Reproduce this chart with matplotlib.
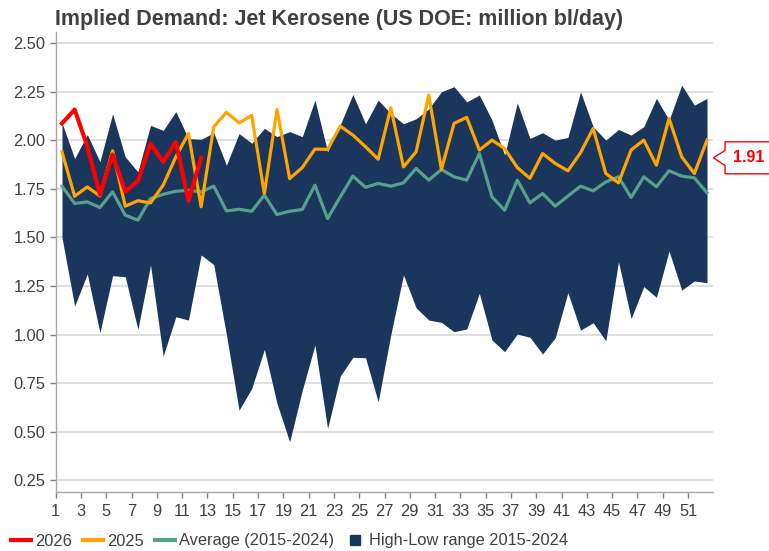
import numpy as np
import matplotlib
matplotlib.use("Agg")
import matplotlib.pyplot as plt
from matplotlib.lines import Line2D
from matplotlib.patches import Polygon
from matplotlib.transforms import IdentityTransform

plt.rcParams['font.family'] = ['Liberation Sans', 'DejaVu Sans']

# weekly data, weeks 1..52
weeks = np.arange(1, 53)
high = [2.09, 1.906, 2.03, 1.89, 2.136, 1.915, 1.838, 2.077, 2.051, 2.148,
        2.009, 2.005, 2.039, 1.872, 2.035, 1.985, 2.062, 2.019, 2.045, 2.019,
        2.207, 1.941, 2.08, 2.236, 2.085, 2.207, 2.138, 2.085, 2.111, 2.162,
        2.25, 2.276, 2.198, 2.233, 2.104, 1.924, 2.193, 2.01, 2.039, 2.001,
        2.015, 2.25, 2.07, 2.001, 2.056, 2.027, 2.07, 2.216, 2.104, 2.284,
        2.181, 2.216]
low = [1.50, 1.147, 1.312, 1.01, 1.303, 1.298, 1.027, 1.358, 0.889, 1.092,
       1.075, 1.41, 1.36, 1.0, 0.611, 0.723, 0.924, 0.646, 0.448, 0.714,
       0.946, 0.517, 0.786, 0.883, 0.881, 0.654, 1.0, 1.307, 1.138, 1.075,
       1.063, 1.015, 1.029, 1.212, 0.972, 0.912, 1.003, 0.986, 0.9, 0.984,
       1.216, 1.023, 1.061, 0.968, 1.375, 1.083, 1.247, 1.192, 1.43, 1.229,
       1.276, 1.267]
avg = [1.764, 1.675, 1.683, 1.654, 1.735, 1.615, 1.589, 1.70, 1.722, 1.738,
       1.743, 1.735, 1.764, 1.637, 1.645, 1.635, 1.718, 1.618, 1.635, 1.644,
       1.769, 1.597, 1.709, 1.816, 1.758, 1.778, 1.764, 1.781, 1.855, 1.795,
       1.85, 1.812, 1.795, 1.932, 1.709, 1.64, 1.795, 1.678, 1.726, 1.661,
       1.713, 1.764, 1.74, 1.786, 1.812, 1.706, 1.812, 1.761, 1.843, 1.816,
       1.807, 1.73]
y2025 = [1.941, 1.712, 1.76, 1.714, 1.946, 1.661, 1.689, 1.678, 1.769, 1.915,
         2.035, 1.658, 2.07, 2.144, 2.09, 2.128, 1.726, 2.159, 1.803, 1.86,
         1.955, 1.953, 2.073, 2.027, 1.967, 1.903, 2.168, 1.863, 1.941, 2.233,
         1.85, 2.087, 2.118, 1.95, 2.001, 1.958, 1.86, 1.804, 1.932, 1.881,
         1.843, 1.936, 2.061, 1.829, 1.781, 1.95, 2.001, 1.872, 2.113, 1.915,
         1.829, 2.001]
y2026 = [2.087, 2.158, 1.97, 1.72, 1.927, 1.736, 1.791, 1.983, 1.889, 1.991,
         1.689, 1.91]

xtick_labels = [str(i) for i in range(1, 52, 2)]
ytick_vals = np.arange(0.25, 2.51, 0.25)

navy = '#1b365d'
teal = '#56a08c'
orange = '#ffa500'
red = '#ff0000'
txt = '#404040'

fig = plt.figure(figsize=(7.69, 5.51), dpi=100)
ax = fig.add_axes([0.0724, 0.1071, 0.8552, 0.8357])

ax.fill_between(weeks, low, high, color=navy, lw=0, zorder=2)
ax.plot(weeks, avg, color=teal, lw=2.3, zorder=3)
ax.plot(weeks, y2025, color=orange, lw=2.3, zorder=4)
ax.plot(weeks[:len(y2026)], y2026, color=red, lw=3.0, zorder=5)

ax.set_xlim(0.5, 52.5)
ax.set_ylim(0.19, 2.56)
ax.set_xticks(np.arange(len(xtick_labels)) * 2 + 0.5)
ax.set_xticklabels(xtick_labels)
ax.set_yticks(ytick_vals)
ax.set_yticklabels([f"{v:.2f}" for v in ytick_vals])

ax.set_axisbelow(True)
ax.yaxis.grid(True, color='#d9d9d9', lw=1.2)
for s in ['top', 'right']:
    ax.spines[s].set_visible(False)
for s in ['left', 'bottom']:
    ax.spines[s].set_color('#a6a6a6')
    ax.spines[s].set_linewidth(1)
ax.tick_params(axis='both', colors='#808080', labelcolor=txt, labelsize=11.8, length=4.5, width=1)
ax.tick_params(axis='y', pad=3)
ax.tick_params(axis='x', pad=4)

fig.text(55 / 769, 1 - 25 / 551, 'Implied Demand: Jet Kerosene (US DOE: million bl/day)',
         fontsize=15.5, fontweight='bold', color=txt, va='baseline', ha='left')

# callout with last 2026 value
last = y2026[-1]
tx, ty = ax.transData.transform((52.5, last))
offs = [(0, 0), (11.7, 7.3), (11.7, 16), (70, 16), (70, -16), (11.7, -16), (11.7, -7.7)]
poly = Polygon([(tx + dx, ty + dy) for dx, dy in offs], closed=True, facecolor='white',
               edgecolor=red, lw=1, transform=IdentityTransform(), clip_on=False, zorder=10)
fig.patches.append(poly)
fig.text((tx + 35) / 769, ty / 551, f"{last:.2f}", color=red, fontsize=11.5, fontweight='bold',
         ha='center', va='center', zorder=11)

handles = [Line2D([], [], color=red, lw=3),
           Line2D([], [], color=orange, lw=3),
           Line2D([], [], color=teal, lw=3),
           Line2D([], [], color=navy, marker='s', markersize=6.5, lw=0)]
labels = ['2026', '2025', 'Average (2015-2024)', 'High-Low range 2015-2024']
leg = fig.legend(handles, labels, loc='center left', bbox_to_anchor=(11 / 769, 1 - 541 / 551),
                 ncol=4, frameon=False, fontsize=11.8, handlelength=1.2, handletextpad=0.25,
                 columnspacing=0.7, borderaxespad=0, borderpad=0)
for t in leg.get_texts():
    t.set_color(txt)

fig.savefig('out.png', dpi=100)
